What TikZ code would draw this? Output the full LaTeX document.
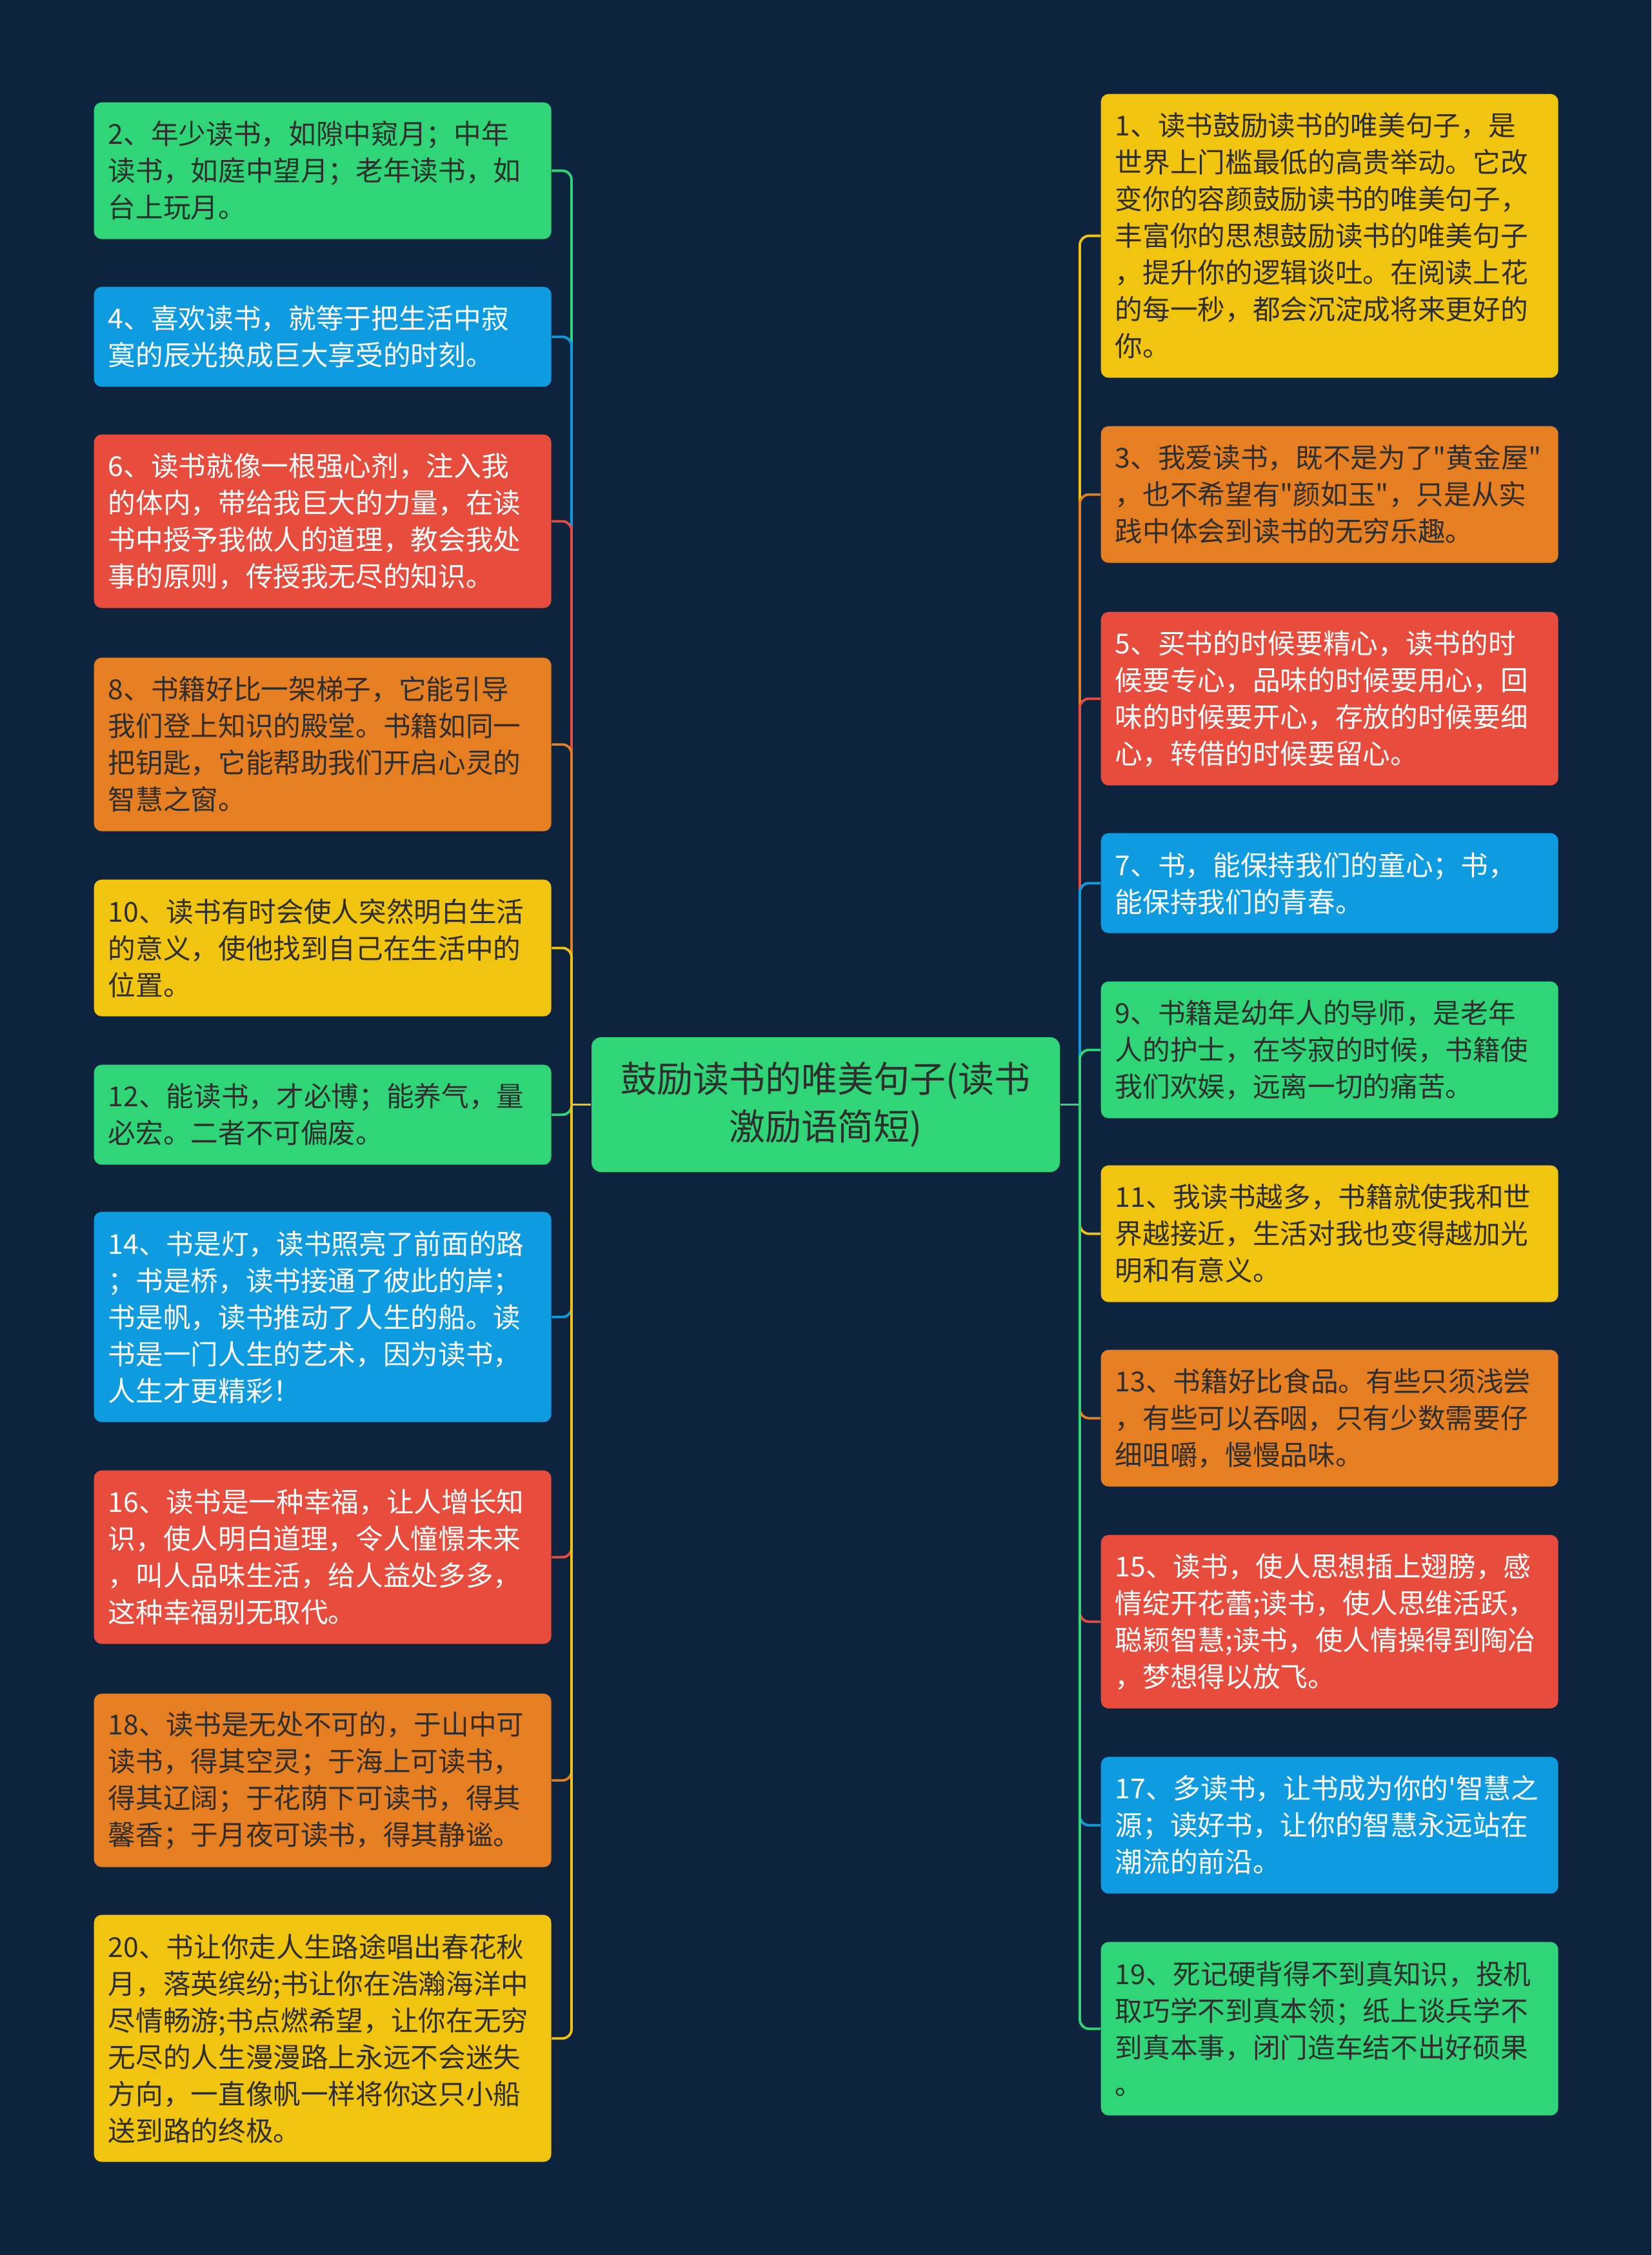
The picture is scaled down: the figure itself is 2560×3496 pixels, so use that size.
\documentclass[tikz,border=0pt]{standalone}
\usepackage{fontspec}
\setmainfont{Noto Sans CJK SC}[Ligatures=TeXOff]
\definecolor{cbg}{HTML}{0D233E}
\definecolor{cgreen}{HTML}{2FD576}
\definecolor{cblue}{HTML}{0E9BE0}
\definecolor{cred}{HTML}{E84C3D}
\definecolor{corange}{HTML}{E67E22}
\definecolor{cyellow}{HTML}{F1C40F}
\definecolor{cdark}{HTML}{2E2E2E}
\tikzset{
  box/.style={anchor=north west, rounded corners=3.6pt, text width=199.5pt,
    inner xsep=6.6pt, inner ysep=3pt, align=left,
    font=\fontsize{12.8pt}{17.1pt}\selectfont},
  gbox/.style={box, fill=cgreen, text=cdark},
  bbox/.style={box, fill=cblue, text=white},
  rbox/.style={box, fill=cred, text=white},
  obox/.style={box, fill=corange, text=cdark},
  ybox/.style={box, fill=cyellow, text=cdark},
  hii/.style={minimum height=46.5pt},
  hiii/.style={minimum height=63.6pt},
  hiv/.style={minimum height=80.7pt},
  hv/.style={minimum height=97.8pt},
  hvi/.style={minimum height=114.9pt},
  hvii/.style={minimum height=132pt},
  mainbox/.style={fill=cgreen, text=cdark, rounded corners=4.5pt, text width=200pt,
    inner xsep=8.9pt, minimum height=62.7pt, align=center,
    font=\fontsize{16.8pt}{22.2pt}\selectfont},
  conn/.style={line width=1.15pt},
  elbow/.style={conn, rounded corners=4.2pt},
}
\begin{document}
\begin{tikzpicture}[x=0.3pt, y=-0.3pt]
\fill[cbg] (0,0) rectangle (2560,3496);
\useasboundingbox (0,0) rectangle (2560,3496);

\node[mainbox] (C) at (1280,1712.5) {鼓励读书的唯美句子(读书\\激励语简短)};
\coordinate (TL) at (886,1712.5);
\coordinate (TR) at (1674,1712.5);

% left column
\node[gbox,hiii] (L1) at (145,158) {2、年少读书，如隙中窥月；中年\\读书，如庭中望月；老年读书，如\\台上玩月。};
\node[bbox,hii] (L2) at (145,444) {4、喜欢读书，就等于把生活中寂\\寞的辰光换成巨大享受的时刻。};
\node[rbox,hiv] (L3) at (145,673) {6、读书就像一根强心剂，注入我\\的体内，带给我巨大的力量，在读\\书中授予我做人的道理，教会我处\\事的原则，传授我无尽的知识。};
\node[obox,hiv] (L4) at (145,1019) {8、书籍好比一架梯子，它能引导\\我们登上知识的殿堂。书籍如同一\\把钥匙，它能帮助我们开启心灵的\\智慧之窗。};
\node[ybox,hiii] (L5) at (145,1363) {10、读书有时会使人突然明白生活\\的意义，使他找到自己在生活中的\\位置。};
\node[gbox,hii] (L6) at (145,1650) {12、能读书，才必博；能养气，量\\必宏。二者不可偏废。};
\node[bbox,hv] (L7) at (145,1878) {14、书是灯，读书照亮了前面的路\\；书是桥，读书接通了彼此的岸；\\书是帆，读书推动了人生的船。读\\书是一门人生的艺术，因为读书，\\人生才更精彩！};
\node[rbox,hiv] (L8) at (145,2279) {16、读书是一种幸福，让人增长知\\识，使人明白道理，令人憧憬未来\\，叫人品味生活，给人益处多多，\\这种幸福别无取代。};
\node[obox,hiv] (L9) at (145,2625) {18、读书是无处不可的，于山中可\\读书，得其空灵；于海上可读书，\\得其辽阔；于花荫下可读书，得其\\馨香；于月夜可读书，得其静谧。};
\node[ybox,hvi] (L10) at (145,2968) {20、书让你走人生路途唱出春花秋\\月，落英缤纷;书让你在浩瀚海洋中\\尽情畅游;书点燃希望，让你在无穷\\无尽的人生漫漫路上永远不会迷失\\方向，一直像帆一样将你这只小船\\送到路的终极。};

% right column
\node[ybox,hvii] (R1) at (1706,145) {1、读书鼓励读书的唯美句子，是\\世界上门槛最低的高贵举动。它改\\变你的容颜鼓励读书的唯美句子，\\丰富你的思想鼓励读书的唯美句子\\，提升你的逻辑谈吐。在阅读上花\\的每一秒，都会沉淀成将来更好的\\你。};
\node[obox,hiii] (R2) at (1706,660) {3、我爱读书，既不是为了"黄金屋"\\，也不希望有"颜如玉"，只是从实\\践中体会到读书的无穷乐趣。};
\node[rbox,hiv] (R3) at (1706,948) {5、买书的时候要精心，读书的时\\候要专心，品味的时候要用心，回\\味的时候要开心，存放的时候要细\\心，转借的时候要留心。};
\node[bbox,hii] (R4) at (1706,1291) {7、书，能保持我们的童心；书，\\能保持我们的青春。};
\node[gbox,hiii] (R5) at (1706,1521) {9、书籍是幼年人的导师，是老年\\人的护士，在岑寂的时候，书籍使\\我们欢娱，远离一切的痛苦。};
\node[ybox,hiii] (R6) at (1706,1806) {11、我读书越多，书籍就使我和世\\界越接近，生活对我也变得越加光\\明和有意义。};
\node[obox,hiii] (R7) at (1706,2092) {13、书籍好比食品。有些只须浅尝\\，有些可以吞咽，只有少数需要仔\\细咀嚼，慢慢品味。};
\node[rbox,hiv] (R8) at (1706,2379) {15、读书，使人思想插上翅膀，感\\情绽开花蕾;读书，使人思维活跃，\\聪颖智慧;读书，使人情操得到陶冶\\，梦想得以放飞。};
\node[bbox,hiii] (R9) at (1706,2723) {17、多读书，让书成为你的'智慧之\\源；读好书，让你的智慧永远站在\\潮流的前沿。};
\node[gbox,hiv] (R10) at (1706,3010) {19、死记硬背得不到真知识，投机\\取巧学不到真本领；纸上谈兵学不\\到真本事，闭门造车结不出好硕果\\。};

% left connectors
\draw[elbow,cgreen] (TL) |- (L1.east);
\draw[elbow,cblue] (TL) |- (L2.east);
\draw[elbow,cred] (TL) |- (L3.east);
\draw[elbow,corange] (TL) |- (L4.east);
\draw[elbow,cyellow] (TL) |- (L5.east);
\draw[elbow,cgreen] (TL) |- (L6.east);
\draw[elbow,cblue] (TL) |- (L7.east);
\draw[elbow,cred] (TL) |- (L8.east);
\draw[elbow,corange] (TL) |- (L9.east);
\draw[elbow,cyellow] (TL) |- (L10.east);
\draw[conn,cyellow] (C.west) -- (TL);

% right connectors
\draw[elbow,cyellow] (TR) |- (R1.west);
\draw[elbow,corange] (TR) |- (R2.west);
\draw[elbow,cred] (TR) |- (R3.west);
\draw[elbow,cblue] (TR) |- (R4.west);
\draw[elbow,cgreen] (TR) |- (R5.west);
\draw[elbow,cyellow] (TR) |- (R6.west);
\draw[elbow,corange] (TR) |- (R7.west);
\draw[elbow,cred] (TR) |- (R8.west);
\draw[elbow,cblue] (TR) |- (R9.west);
\draw[elbow,cgreen] (TR) |- (R10.west);
\draw[conn,cgreen] (C.east) -- (TR);
\end{tikzpicture}
\end{document}
